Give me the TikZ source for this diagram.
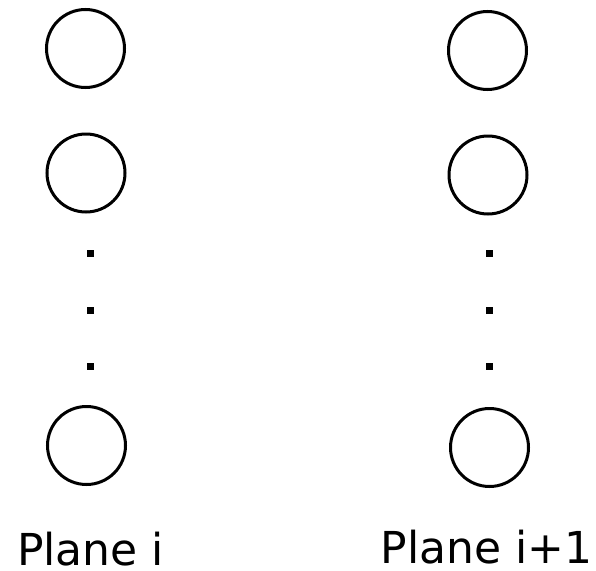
\documentclass[tikz,border=0pt]{standalone}
\usepackage{fontspec}
\setmainfont{DejaVu Sans}
\begin{document}
\begin{tikzpicture}[x=1pt,y=-1pt,
  neuron/.style={circle,draw=black,line width=3pt,minimum size=78pt,inner sep=0pt},
  dotmark/.style={fill=black,minimum size=7pt,inner sep=0pt,rectangle},
  lbl/.style={anchor=base,font=\fontsize{44}{50}\selectfont,inner sep=0pt,text depth=0pt}]
\useasboundingbox (0,0) rectangle (596,570);
\node[neuron] (a1) at (85.5,48.5) {};
\node[neuron] (a2) at (86,173) {};
\node[neuron] (a3) at (86.5,445.5) {};
\node[dotmark] (ad1) at (90.5,253) {};
\node[dotmark] (ad2) at (90.5,310) {};
\node[dotmark] (ad3) at (90.5,366) {};
\node[neuron] (b1) at (487.5,50.5) {};
\node[neuron] (b2) at (488,175) {};
\node[neuron] (b3) at (489.5,447.5) {};
\node[dotmark] (bd1) at (489,253) {};
\node[dotmark] (bd2) at (489,310) {};
\node[dotmark] (bd3) at (489,366) {};
\node[lbl] (la) at (90.5,565) {Plane i};
\node[lbl] (lb) at (486.5,563) {Plane i+1};
\end{tikzpicture}
\end{document}
